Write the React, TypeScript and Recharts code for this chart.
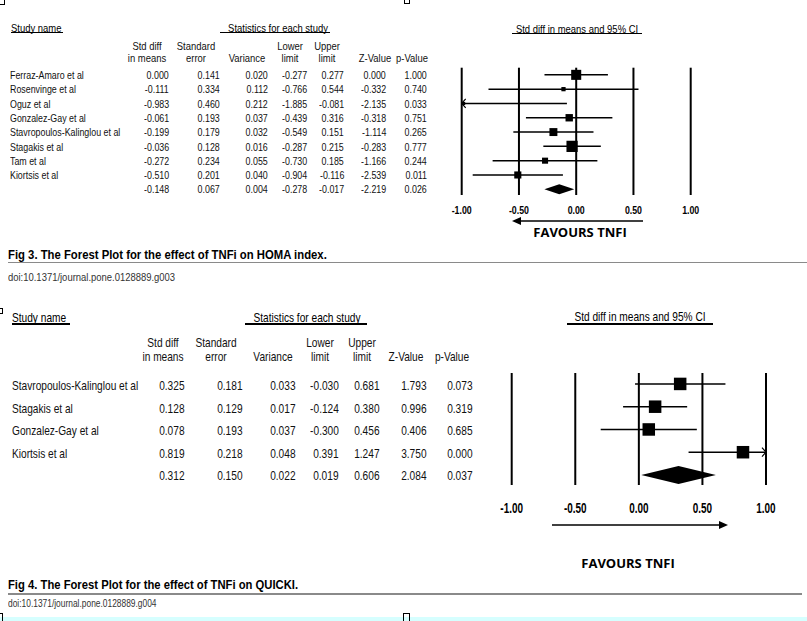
import React from 'react';
import { ScatterChart, Scatter, XAxis, YAxis, ReferenceLine, ReferenceArea } from 'recharts';

// Fig 3 - HOMA index
const homaStudies = ['Ferraz-Amaro et al', 'Rosenvinge et al', 'Oguz et al', 'Gonzalez-Gay et al', 'Stavropoulos-Kalinglou et al', 'Stagakis et al', 'Tam et al', 'Kiortsis et al', ''];
const homaStdDiff = [0.0, -0.111, -0.983, -0.061, -0.199, -0.036, -0.272, -0.51, -0.148];
const homaStdErr = [0.141, 0.334, 0.46, 0.193, 0.179, 0.128, 0.234, 0.201, 0.067];
const homaVariance = [0.02, 0.112, 0.212, 0.037, 0.032, 0.016, 0.055, 0.04, 0.004];
const homaLower = [-0.277, -0.766, -1.885, -0.439, -0.549, -0.287, -0.73, -0.904, -0.278];
const homaUpper = [0.277, 0.544, -0.081, 0.316, 0.151, 0.215, 0.185, -0.116, -0.017];
const homaZ = [0.0, -0.332, -2.135, -0.318, -1.114, -0.283, -1.166, -2.539, -2.219];
const homaP = [1.0, 0.74, 0.033, 0.751, 0.265, 0.777, 0.244, 0.011, 0.026];

// Fig 4 - QUICKI
const quickiStudies = ['Stavropoulos-Kalinglou et al', 'Stagakis et al', 'Gonzalez-Gay et al', 'Kiortsis et al', ''];
const quickiStdDiff = [0.325, 0.128, 0.078, 0.819, 0.312];
const quickiStdErr = [0.181, 0.129, 0.193, 0.218, 0.15];
const quickiVariance = [0.033, 0.017, 0.037, 0.048, 0.022];
const quickiLower = [-0.03, -0.124, -0.3, 0.391, 0.019];
const quickiUpper = [0.681, 0.38, 0.456, 1.247, 0.606];
const quickiZ = [1.793, 0.996, 0.406, 3.75, 2.084];
const quickiP = [0.073, 0.319, 0.685, 0.0, 0.037];

const axisTicks = [-1, -0.5, 0, 0.5, 1];
const columnHeads = [['Std diff', 'in means'], ['Standard', 'error'], ['', 'Variance'], ['Lower', 'limit'], ['Upper', 'limit'], ['', 'Z-Value'], ['', 'p-Value']];

const SANS = '"Liberation Sans", Arial, Helvetica, sans-serif';
const CAL = '"Open Sans", Lato, sans-serif';
const PAGE_W = 807;

type Row = { name: string; est: number; se: number; variance: number; lower: number; upper: number; z: number; p: number };

function buildRows(names: string[], est: number[], se: number[], v: number[], lo: number[], hi: number[], z: number[], p: number[]): Row[] {
  return names.map((name, i) => ({ name, est: est[i], se: se[i], variance: v[i], lower: lo[i], upper: hi[i], z: z[i], p: p[i] }));
}

const homaRows = buildRows(homaStudies, homaStdDiff, homaStdErr, homaVariance, homaLower, homaUpper, homaZ, homaP);
const quickiRows = buildRows(quickiStudies, quickiStdDiff, quickiStdErr, quickiVariance, quickiLower, quickiUpper, quickiZ, quickiP);

function Txt({ x, y, children, align = 'left', size = 10, k = 1, bold = false, color = '#111', family = SANS }: any) {
  const lh = Math.round(size * 1.2);
  const style: React.CSSProperties = {
    position: 'absolute', top: y - lh / 2, lineHeight: `${lh}px`, fontSize: size, fontFamily: family,
    fontWeight: bold ? 700 : 400, color, whiteSpace: 'nowrap',
  };
  if (align === 'left') {
    style.left = x; style.transform = `scaleX(${k})`; style.transformOrigin = '0 50%';
  } else if (align === 'right') {
    style.right = PAGE_W - x; style.transform = `scaleX(${k})`; style.transformOrigin = '100% 50%';
  } else {
    style.left = x; style.transform = `translateX(-50%) scaleX(${k})`; style.transformOrigin = '50% 50%';
  }
  return <div style={style}>{children}</div>;
}

function HLine({ x1, x2, y, w = 1, color = '#000' }: any) {
  return <div style={{ position: 'absolute', left: x1, top: y - w / 2, width: x2 - x1, height: w, background: color }} />;
}

function Box({ x, y, w, h }: any) {
  return <div style={{ position: 'absolute', left: x, top: y, width: w, height: h, border: '1px solid #000', boxSizing: 'border-box' }} />;
}

function Arrow({ x1, x2, y, dir }: any) {
  // dir -1 = head on the left
  const left = Math.min(x1, x2) - 2;
  const w = Math.abs(x2 - x1) + 4;
  const tip = dir < 0 ? 2 : w - 2;
  const base = dir < 0 ? tip + 9 : tip - 9;
  const lineFrom = dir < 0 ? base : 2;
  const lineTo = dir < 0 ? w - 2 : base;
  return (
    <svg style={{ position: 'absolute', left, top: y - 6 }} width={w} height={12}>
      <line x1={lineFrom} x2={lineTo} y1={6} y2={6} stroke="#000" strokeWidth={1.4} />
      <polygon points={`${tip},6 ${base},2 ${base},10`} fill="#000" />
    </svg>
  );
}

function StatsTable({ rows, nameX, cols, rowY, rowStep, size, k }: any) {
  return (
    <>
      {rows.map((r: Row, i: number) => {
        const y = rowY + i * rowStep;
        const vals = [r.est, r.se, r.variance, r.lower, r.upper, r.z, r.p];
        return (
          <React.Fragment key={i}>
            {r.name ? <Txt x={nameX} y={y} size={size} k={k}>{r.name}</Txt> : null}
            {vals.map((v, j) => (
              <Txt key={j} x={cols[j]} y={y} align="right" size={size} k={k}>{v.toFixed(3)}</Txt>
            ))}
          </React.Fragment>
        );
      })}
    </>
  );
}

function ColumnHeads({ centers, y1, y2, size, k }: any) {
  return (
    <>
      {columnHeads.map((h, j) => (
        <React.Fragment key={j}>
          {h[0] ? <Txt x={centers[j]} y={y1} align="center" size={size} k={k}>{h[0]}</Txt> : null}
          <Txt x={centers[j]} y={y2} align="center" size={size} k={k}>{h[1]}</Txt>
        </React.Fragment>
      ))}
    </>
  );
}

function ForestPlot({ rows, left, top, width, height, margin, yDomain, gridW, ciW, side, diamondHalf, tickFont, tickK, tickDy }: any) {
  const studies: Row[] = rows.slice(0, -1);
  const pooled: Row = rows[rows.length - 1];
  const pooledIdx = rows.length - 1;
  const points = studies.map((r, i) => ({ x: r.est, y: i, variance: r.variance }));
  const clipped: { x: number; y: number; dir: number }[] = [];
  studies.forEach((r, i) => {
    if (r.lower < -1) clipped.push({ x: -1, y: i, dir: -1 });
    if (r.upper > 1) clipped.push({ x: 1, y: i, dir: 1 });
  });

  const renderTick = (p: any) => (
    <text
      x={p.x}
      y={p.y + tickDy}
      textAnchor="middle"
      dominantBaseline="central"
      fontFamily={SANS}
      fontWeight={700}
      fontSize={tickFont}
      fill="#000"
      transform={`translate(${p.x} 0) scale(${tickK} 1) translate(${-p.x} 0)`}
    >
      {Number(p.payload.value).toFixed(2)}
    </text>
  );

  const renderSquare = (p: any) => {
    const s = side(p.payload.variance);
    return <rect x={p.cx - s / 2} y={p.cy - s / 2} width={s} height={s} fill="#000" />;
  };

  const renderClip = (p: any) => {
    const d = p.payload.dir;
    return (
      <path
        d={`M${p.cx - d * 4} ${p.cy - 4.5} L${p.cx} ${p.cy} L${p.cx - d * 4} ${p.cy + 4.5}`}
        fill="none"
        stroke="#000"
        strokeWidth={1.2}
      />
    );
  };

  const renderDiamond = (p: any) => {
    const cx = p.x + (p.width * (pooled.est - pooled.lower)) / (pooled.upper - pooled.lower);
    const cy = p.y + p.height / 2;
    return <polygon points={`${p.x},${cy} ${cx},${p.y} ${p.x + p.width},${cy} ${cx},${p.y + p.height}`} fill="#000" />;
  };

  return (
    <div style={{ position: 'absolute', left, top }}>
      <ScatterChart width={width} height={height} margin={margin}>
        <XAxis
          type="number"
          dataKey="x"
          domain={[-1, 1]}
          ticks={axisTicks}
          interval={0}
          allowDataOverflow
          axisLine={false}
          tickLine={false}
          tickSize={6}
          tickMargin={2}
          height={30}
          tick={renderTick}
        />
        <YAxis type="number" dataKey="y" domain={yDomain} reversed hide allowDataOverflow />
        {axisTicks.map((t) => (
          <ReferenceLine key={'v' + t} x={t} stroke="#000" strokeWidth={gridW} />
        ))}
        {studies.map((r, i) => (
          <ReferenceLine
            key={'ci' + i}
            segment={[{ x: Math.max(r.lower, -1), y: i }, { x: Math.min(r.upper, 1), y: i }]}
            stroke="#000"
            strokeWidth={ciW}
          />
        ))}
        <ReferenceArea
          x1={pooled.lower}
          x2={pooled.upper}
          y1={pooledIdx - diamondHalf}
          y2={pooledIdx + diamondHalf}
          fill="#000"
          fillOpacity={1}
          shape={renderDiamond}
        />
        <Scatter data={points} isAnimationActive={false} shape={renderSquare} />
        <Scatter data={clipped} isAnimationActive={false} shape={renderClip} />
      </ScatterChart>
    </div>
  );
}

export default function App() {
  return (
    <div style={{ position: 'absolute', left: 0, top: 0, width: PAGE_W, height: 621, background: '#fff', overflow: 'hidden' }}>
      {/* page corner marks */}
      <Box x={-1} y={-1} w={6} h={6} />
      <Box x={404} y={-1} w={6} h={5} />
      <Box x={-2} y={308} w={5} h={6} />

      {/* ---------- Fig 3 ---------- */}
      <Txt x={11} y={28} size={10.5} k={0.9} color="#000">Study name</Txt>
      <HLine x1={11} x2={63} y={32.5} />
      <Txt x={278} y={28} size={10.5} k={0.9} align="center" color="#000">Statistics for each study</Txt>
      <HLine x1={220} x2={330} y={32.5} />
      <Txt x={577} y={29} size={10.5} k={0.9} align="center" color="#000">Std diff in means and 95% CI</Txt>
      <HLine x1={512} x2={642} y={33.5} />
      <ColumnHeads centers={[147, 196, 247, 290, 327, 375, 412]} y1={46} y2={58} size={10.5} k={0.9} />
      <StatsTable rows={homaRows} nameX={10} cols={[169, 220, 268, 307, 344, 386, 427]} rowY={76} rowStep={14.3} size={10.3} k={0.86} />

      <ForestPlot
        rows={homaRows}
        left={440}
        top={55}
        width={270}
        height={180}
        margin={{ top: 12.7, right: 19.3, left: 21.7, bottom: 10 }}
        yDomain={[-0.5, 8.4]}
        gridW={2}
        ciW={1.5}
        side={(v: number) => 1.42 * Math.sqrt(1 / v)}
        diamondHalf={0.35}
        tickFont={10}
        tickK={0.88}
        tickDy={7}
      />
      <Arrow x1={512} x2={643} y={221} dir={-1} />
      <Txt x={580} y={232} size={13} bold family={CAL} align="center" color="#000">FAVOURS TNFI</Txt>

      <Txt x={8} y={255} size={13} bold k={0.87} color="#000">Fig 3. The Forest Plot for the effect of TNFi on HOMA index.</Txt>
      <HLine x1={8} x2={807} y={262.7} w={1.5} color="#8a8a8a" />
      <Txt x={8} y={277} size={10.5} k={0.9} color="#333">doi:10.1371/journal.pone.0128889.g003</Txt>

      {/* ---------- Fig 4 ---------- */}
      <Txt x={11.7} y={318} size={13} k={0.78} color="#000">Study name</Txt>
      <HLine x1={11.7} x2={70} y={324} w={1.5} />
      <Txt x={307} y={318} size={13} k={0.78} align="center" color="#000">Statistics for each study</Txt>
      <HLine x1={245} x2={367} y={324} w={1.5} />
      <Txt x={640} y={317} size={13} k={0.78} align="center" color="#000">Std diff in means and 95% CI</Txt>
      <HLine x1={567} x2={713} y={324} w={1.5} />
      <ColumnHeads centers={[163, 216, 273, 320, 362, 406, 452]} y1={343} y2={357} size={13} k={0.78} />
      <StatsTable rows={quickiRows} nameX={11.7} cols={[185, 243, 296, 339, 380, 427, 473]} rowY={386} rowStep={22.5} size={13} k={0.78} />

      <ForestPlot
        rows={quickiRows}
        left={490}
        top={360}
        width={300}
        height={170}
        margin={{ top: 13, right: 24, left: 21.7, bottom: 15 }}
        yDomain={[-0.48, 4.44]}
        gridW={2}
        ciW={1.4}
        side={() => 12.5}
        diamondHalf={0.4}
        tickFont={14}
        tickK={0.71}
        tickDy={15}
      />
      <Arrow x1={552} x2={728} y={525} dir={1} />
      <Txt x={628} y={563} size={13} bold family={CAL} align="center" color="#000">FAVOURS TNFI</Txt>

      <Txt x={8} y={585} size={12.5} bold k={0.9} color="#000">Fig 4. The Forest Plot for the effect of TNFi on QUICKI.</Txt>
      <HLine x1={8} x2={802} y={594} w={1.5} color="#8a8a8a" />
      <Txt x={8} y={603} size={10.5} k={0.8} color="#333">doi:10.1371/journal.pone.0128889.g004</Txt>

      <div style={{ position: 'absolute', left: 0, top: 617, width: PAGE_W, height: 4, background: '#d6ffff' }} />
      <Box x={-2} y={613} w={5} h={9} />
      <Box x={403} y={613} w={7} h={9} />
    </div>
  );
}
